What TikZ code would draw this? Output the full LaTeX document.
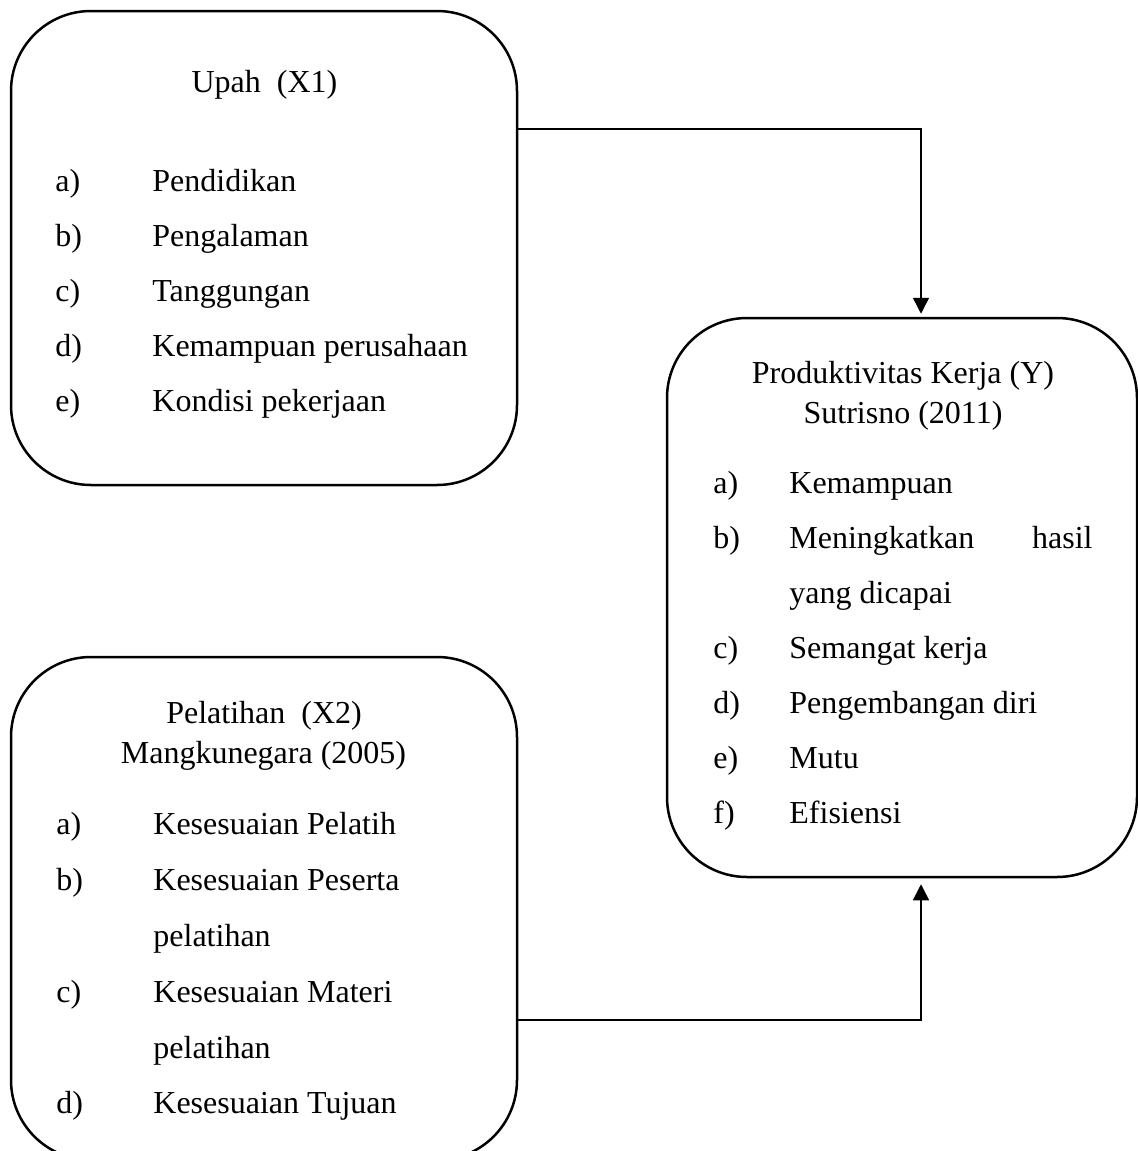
\documentclass[tikz,border=0pt]{standalone}
\usepackage{fontspec}
\setmainfont{Liberation Serif}
\usetikzlibrary{arrows.meta}
\begin{document}
\begin{tikzpicture}[x=0.5pt,y=-0.5pt,
  box/.style={draw, line width=1.25pt, rounded corners=40pt, rectangle, inner sep=0pt},
  txt/.style={inner sep=0pt, anchor=base west, font=\fontsize{16}{19}\selectfont},
  txtr/.style={inner sep=0pt, anchor=base east, font=\fontsize{16}{19}\selectfont},
  head/.style={inner sep=0pt, anchor=base, font=\fontsize{16}{19}\selectfont},
  link/.style={line width=0.7pt, -{Triangle[width=8pt,length=8pt]}}]
\useasboundingbox (0,0) rectangle (1138,1151);

% frames
\node[box, minimum width=253pt, minimum height=237pt] (upah) at (264,248) {};
\node[box, minimum width=235pt, minimum height=279.5pt] (prod) at (902,597.5) {};
\node[box, minimum width=253pt, minimum height=251.5pt] (pel) at (264,908.5) {};

% Upah (X1)
\node[head] (upahH) at (264.5,92) {Upah\ \ (X1)};
\node[txt] (u1l) at (55,191) {a)};  \node[txt] (u1) at (152,191) {Pendidikan};
\node[txt] (u2l) at (55,246) {b)};  \node[txt] (u2) at (152,246) {Pengalaman};
\node[txt] (u3l) at (55,301) {c)};  \node[txt] (u3) at (152,301) {Tanggungan};
\node[txt] (u4l) at (55,356) {d)};  \node[txt] (u4) at (152,356) {Kemampuan perusahaan};
\node[txt] (u5l) at (55,411) {e)};  \node[txt] (u5) at (152,411) {Kondisi pekerjaan};

% Produktivitas Kerja (Y)
\node[head] (prodH1) at (903,383) {Produktivitas Kerja (Y)};
\node[head] (prodH2) at (903,423) {Sutrisno (2011)};
\node[txt] (p1l) at (713,493) {a)};  \node[txt] (p1) at (789,493) {Kemampuan};
\node[txt] (p2l) at (713,548) {b)};  \node[txt] (p2) at (789,548) {Meningkatkan};
\node[txtr] (p2b) at (1093,548) {hasil};
\node[txt] (p2c) at (789,603) {yang dicapai};
\node[txt] (p3l) at (713,658) {c)};  \node[txt] (p3) at (789,658) {Semangat kerja};
\node[txt] (p4l) at (713,713) {d)};  \node[txt] (p4) at (789,713) {Pengembangan diri};
\node[txt] (p5l) at (713,768) {e)};  \node[txt] (p5) at (789,768) {Mutu};
\node[txt] (p6l) at (713,823) {f)};  \node[txt] (p6) at (789,823) {Efisiensi};

% Pelatihan (X2)
\node[head] (pelH1) at (264,723) {Pelatihan\ \ (X2)};
\node[head] (pelH2) at (263.5,763) {Mangkunegara (2005)};
\node[txt] (e1l) at (56,834) {a)};  \node[txt] (e1) at (153,834) {Kesesuaian Pelatih};
\node[txt] (e2l) at (56,890) {b)};  \node[txt] (e2) at (153,890) {Kesesuaian Peserta};
\node[txt] (e2b) at (153,946) {pelatihan};
\node[txt] (e3l) at (56,1002) {c)};  \node[txt] (e3) at (153,1002) {Kesesuaian Materi};
\node[txt] (e3b) at (153,1058) {pelatihan};
\node[txt] (e4l) at (56,1113) {d)}; \node[txt] (e4) at (153,1113) {Kesesuaian Tujuan};

% connectors
\coordinate (k1) at (921,129);
\coordinate (k2) at (921,1020);
\draw[link] (upah.east |- k1) -- (k1) -- ([yshift=1.5pt]prod.north -| k1);
\draw[link] (pel.east |- k2) -- (k2) -- ([yshift=-3pt]prod.south -| k2);
\end{tikzpicture}
\end{document}
